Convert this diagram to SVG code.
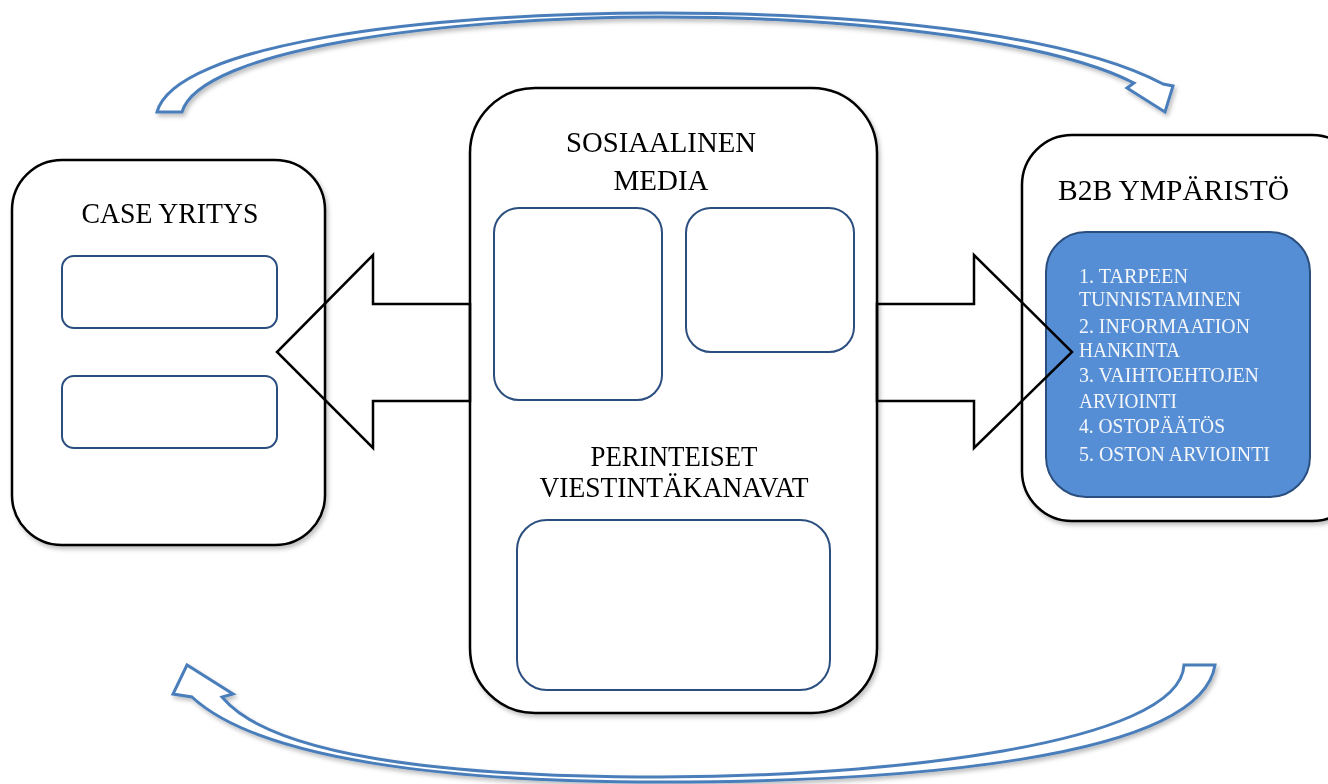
<svg xmlns="http://www.w3.org/2000/svg" width="1328" height="784" viewBox="0 0 1328 784">
<defs>
<filter id="sh" x="-10%" y="-10%" width="130%" height="130%">
<feDropShadow dx="2" dy="3" stdDeviation="2" flood-color="#000" flood-opacity="0.25"/>
</filter>
<style>
.box{fill:#fff;stroke:#000;stroke-width:2.5}
.inner{fill:#fff;stroke:#2c4f7f;stroke-width:2}
.blue{fill:#558ed5;stroke:#2c4f7f;stroke-width:2}
.title{font-family:"Liberation Serif","DejaVu Serif",serif;font-size:30px;fill:#000}
.item{font-family:"Liberation Serif","DejaVu Serif",serif;font-size:21px;fill:#f4f6fa}
.block{fill:none;stroke:#000;stroke-width:2.5;stroke-linejoin:miter}
.curve{fill:#fff;stroke:#4a7ebb;stroke-width:3;stroke-linejoin:miter}
</style>
</defs>
<rect width="1328" height="784" fill="#fff"/>

<g id="case-yritys" filter="url(#sh)">
<rect class="box" x="12" y="160" width="313" height="385" rx="50"/>
<text class="title" x="170" y="223" text-anchor="middle" textLength="177" lengthAdjust="spacingAndGlyphs">CASE YRITYS</text>
<rect class="inner" x="62" y="256" width="215" height="72" rx="12"/>
<rect class="inner" x="62" y="376" width="215" height="72" rx="12"/>
</g>

<g id="media" filter="url(#sh)">
<rect class="box" x="470" y="88" width="407" height="625" rx="65"/>
<text class="title" x="661" y="152" text-anchor="middle" textLength="190" lengthAdjust="spacingAndGlyphs">SOSIAALINEN</text>
<text class="title" x="661" y="190" text-anchor="middle" textLength="95" lengthAdjust="spacingAndGlyphs">MEDIA</text>
<rect class="inner" x="494" y="208" width="168" height="192" rx="25"/>
<rect class="inner" x="686" y="208" width="168" height="144" rx="25"/>
<text class="title" x="674" y="466" text-anchor="middle" textLength="167" lengthAdjust="spacingAndGlyphs">PERINTEISET</text>
<text class="title" x="674" y="497" text-anchor="middle" textLength="269" lengthAdjust="spacingAndGlyphs">VIESTINTÄKANAVAT</text>
<rect class="inner" x="517" y="520" width="313" height="170" rx="30"/>
</g>

<g id="b2b" filter="url(#sh)">
<rect class="box" x="1022" y="135" width="340" height="386" rx="50"/>
<text class="title" x="1058" y="200" textLength="231" lengthAdjust="spacingAndGlyphs">B2B YMPÄRISTÖ</text>
<rect class="blue" x="1046" y="232" width="264" height="265" rx="40"/>
<text class="item" x="1079" y="283" textLength="109" lengthAdjust="spacingAndGlyphs">1. TARPEEN</text>
<text class="item" x="1079" y="306" textLength="162" lengthAdjust="spacingAndGlyphs">TUNNISTAMINEN</text>
<text class="item" x="1079" y="333" textLength="171" lengthAdjust="spacingAndGlyphs">2. INFORMAATION</text>
<text class="item" x="1079" y="357" textLength="101" lengthAdjust="spacingAndGlyphs">HANKINTA</text>
<text class="item" x="1079" y="382" textLength="180" lengthAdjust="spacingAndGlyphs">3. VAIHTOEHTOJEN</text>
<text class="item" x="1079" y="408" textLength="98" lengthAdjust="spacingAndGlyphs">ARVIOINTI</text>
<text class="item" x="1079" y="433" textLength="146" lengthAdjust="spacingAndGlyphs">4. OSTOPÄÄTÖS</text>
<text class="item" x="1079" y="461" textLength="191" lengthAdjust="spacingAndGlyphs">5. OSTON ARVIOINTI</text>
</g>

<g id="connectors">
<polygon class="block" points="470,304 373,304 373,255 277,352 373,448 373,401 470,401"/>
<polygon class="block" points="877,304 974,304 974,255 1072,352 974,448 974,401 877,401"/>
<path class="curve" filter="url(#sh)" d="M157,112 C175,45 420,13 660,13 C900,13 1080,40 1163,84 L1173,86 L1165,112 L1127,88 L1134,83 C1060,45 880,17 660,17 C440,17 200,50 182,112 Z"/>
<path class="curve" filter="url(#sh)" d="M1215,665 C1200,760 900,782 660,782 C450,782 260,760 192,697 L173,694 L187,665 L233,694 L222,697 C270,755 440,777 660,777 C880,777 1180,745 1184,665 Z"/>
</g>
</svg>
